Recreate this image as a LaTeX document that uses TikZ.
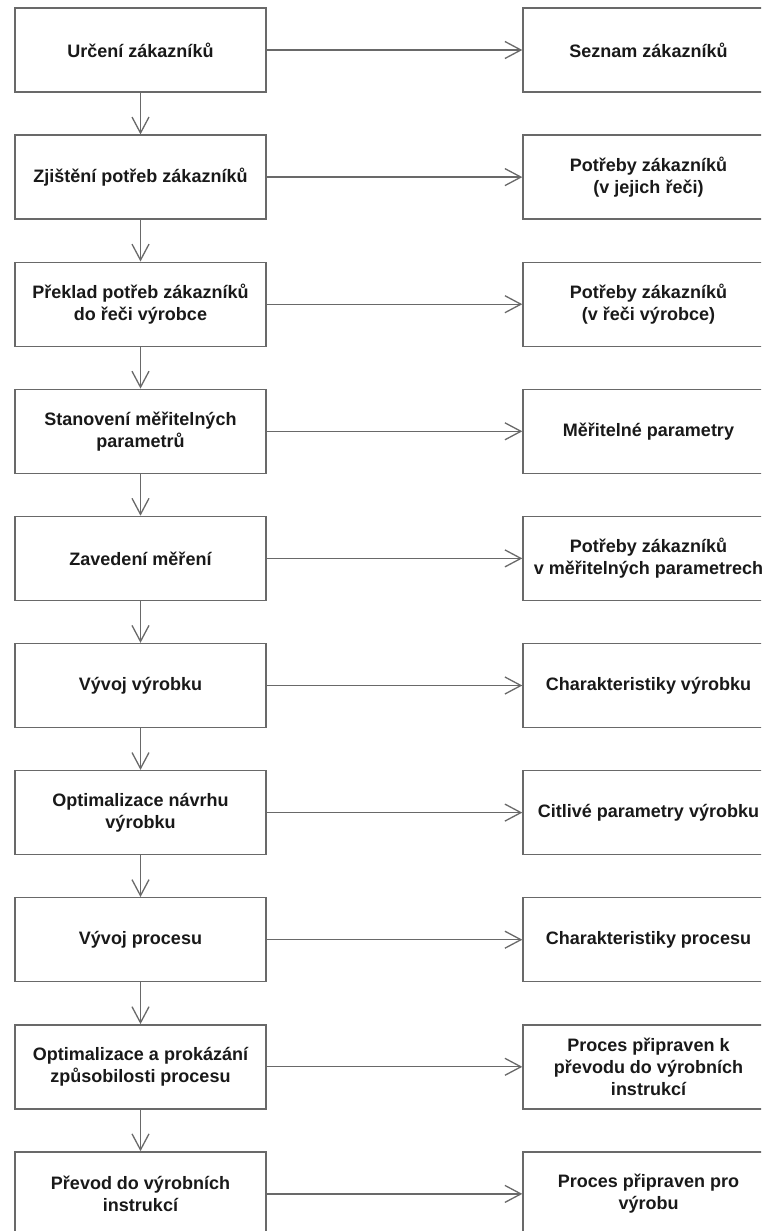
\documentclass[tikz,border=0pt]{standalone}
\usepackage{fontspec}
\setmainfont{Liberation Sans}
\usetikzlibrary{arrows.meta}
\definecolor{edgegray}{RGB}{105,105,105}
\definecolor{inkdark}{RGB}{25,25,25}
\tikzset{
  stagebox/.style={draw=edgegray, line width=1.4pt, fill=white,
    minimum width=251pt, minimum height=84pt, inner sep=0pt,
    align=center, text=inkdark,
    font=\bfseries\fontsize{18pt}{22pt}\selectfont},
  flow/.style={draw=edgegray, line width=1.3pt,
    -{Straight Barb[length=16pt,width=17pt,line width=1.3pt]}}
}
\begin{document}
\begin{tikzpicture}[x=1pt,y=-1pt]
\useasboundingbox (0,0) rectangle (761,1231);
\clip (0,0) rectangle (761,1231);
\fill[white] (0,0) rectangle (761,1231);

% process steps (left column)
\node[stagebox] (L1)  at (140.5,  50.0) {Určení zákazníků};
\node[stagebox] (L2)  at (140.5, 177.1) {Zjištění potřeb zákazníků};
\node[stagebox] (L3)  at (140.5, 304.2) {Překlad potřeb zákazníků\\do řeči výrobce};
\node[stagebox] (L4)  at (140.5, 431.3) {Stanovení měřitelných\\parametrů};
\node[stagebox] (L5)  at (140.5, 558.4) {Zavedení měření};
\node[stagebox] (L6)  at (140.5, 685.5) {Vývoj výrobku};
\node[stagebox] (L7)  at (140.5, 812.6) {Optimalizace návrhu\\výrobku};
\node[stagebox] (L8)  at (140.5, 939.7) {Vývoj procesu};
\node[stagebox] (L9)  at (140.5,1066.8) {Optimalizace a prokázání\\způsobilosti procesu};
\node[stagebox] (L10) at (140.5,1193.9) {Převod do výrobních\\instrukcí};

% outputs (right column)
\node[stagebox] (R1)  at (648.5,  50.0) {Seznam zákazníků};
\node[stagebox] (R2)  at (648.5, 177.1) {Potřeby zákazníků\\(v jejich řeči)};
\node[stagebox] (R3)  at (648.5, 304.2) {Potřeby zákazníků\\(v řeči výrobce)};
\node[stagebox] (R4)  at (648.5, 431.3) {Měřitelné parametry};
\node[stagebox] (R5)  at (648.5, 558.4) {Potřeby zákazníků\\v měřitelných parametrech};
\node[stagebox] (R6)  at (648.5, 685.5) {Charakteristiky výrobku};
\node[stagebox] (R7)  at (648.5, 812.6) {Citlivé parametry výrobku};
\node[stagebox] (R8)  at (648.5, 939.7) {Charakteristiky procesu};
\node[stagebox] (R9)  at (648.5,1066.8) {Proces připraven k\\převodu do výrobních\\instrukcí};
\node[stagebox] (R10) at (648.5,1193.9) {Proces připraven pro\\výrobu};

% step-to-step arrows
\foreach \a/\b in {L1/L2,L2/L3,L3/L4,L4/L5,L5/L6,L6/L7,L7/L8,L8/L9,L9/L10}
  \draw[flow] (\a.south) -- (\b.north);

% step-to-output arrows
\foreach \i in {1,...,10}
  \draw[flow] (L\i.east) -- (R\i.west);
\end{tikzpicture}
\end{document}
